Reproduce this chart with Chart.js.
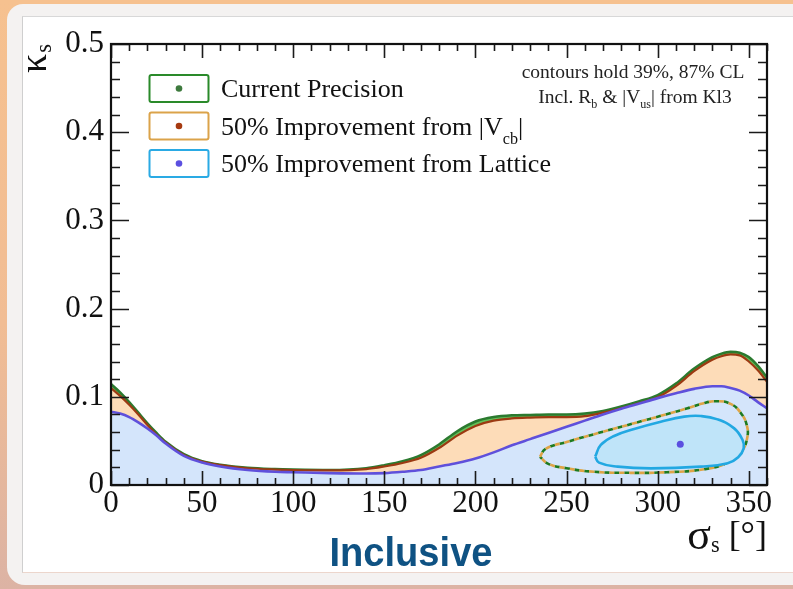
<!DOCTYPE html>
<html>
<head>
<meta charset="utf-8">
<script src="https://cdn.jsdelivr.net/npm/chart.js@4/dist/chart.umd.min.js"></script>
<style>
  html, body { margin: 0; padding: 0; }
  body {
    width: 793px; height: 589px; overflow: hidden; position: relative;
    background: linear-gradient(180deg, #f6c18f 0%, #f1bd94 55%, #dcb3a4 100%);
  }
  #sheet {
    position: absolute; left: 7px; top: 4px; right: 0; bottom: 4px;
    background: #f4f2f1; border-radius: 16px 0 0 18px;
  }
  #page {
    position: absolute; left: 22px; top: 16px; right: 0; bottom: 16px;
    background: #ffffff;
    border-left: 1px solid #cfcfcf; border-top: 1px solid #d8d8d8; border-bottom: 1px solid #ecd6cc;
  }
  #plot { position: absolute; left: 0; top: 0; }
</style>
</head>
<body>
<div id="sheet"></div>
<div id="page"></div>
<canvas id="plot" width="793" height="589"></canvas>
<script>
// sigma_s grid (degrees) for the upper edge of the 87% CL regions
const sigmaDeg = [0, 5, 10, 15, 20, 25, 30, 40, 50, 60, 75, 90, 100, 120, 140, 150, 160, 170, 180, 190,
                  200, 210, 220, 230, 240, 250, 260, 270, 280, 290, 300, 310, 320, 330, 335, 340, 345, 350, 355, 360];

// upper kappa_s edge of each 87% CL region
const kappaCurrent = [0.1145, 0.105, 0.094, 0.082, 0.070, 0.059, 0.049, 0.035, 0.027, 0.023, 0.0195, 0.018, 0.0175, 0.017, 0.019, 0.0225, 0.027, 0.034, 0.046, 0.061,
                      0.072, 0.077, 0.079, 0.0795, 0.080, 0.080, 0.081, 0.084, 0.089, 0.095, 0.102, 0.115, 0.132, 0.145, 0.149, 0.151, 0.150, 0.145, 0.135, 0.122];
const kappaVcb     = [0.110, 0.101, 0.091, 0.080, 0.068, 0.057, 0.048, 0.034, 0.0265, 0.0225, 0.019, 0.0175, 0.017, 0.0165, 0.018, 0.021, 0.025, 0.031, 0.042, 0.056,
                      0.067, 0.073, 0.0755, 0.0765, 0.077, 0.077, 0.078, 0.082, 0.087, 0.093, 0.0995, 0.112, 0.129, 0.142, 0.146, 0.148, 0.147, 0.140, 0.130, 0.117];
const kappaLattice = [0.083, 0.081, 0.077, 0.071, 0.064, 0.056, 0.047, 0.033, 0.0255, 0.021, 0.017, 0.015, 0.0145, 0.0135, 0.013, 0.0135, 0.015, 0.017, 0.021, 0.025,
                      0.030, 0.037, 0.045, 0.052, 0.059, 0.066, 0.073, 0.080, 0.0865, 0.0925, 0.0985, 0.104, 0.109, 0.112, 0.112, 0.110, 0.107, 0.1015, 0.094, 0.087];

// 39% CL closed contours, [sigma_s, kappa_s]
const contourVcb39 = [[235.4, 0.032], [238.5, 0.041], [250.5, 0.049], [268.8, 0.0597], [287, 0.070], [305.4, 0.0805], [316.4, 0.087],
                      [324, 0.092], [332, 0.095], [340, 0.092], [345.5, 0.082], [349, 0.067], [349, 0.052], [346, 0.038], [339, 0.026],
                      [326, 0.018], [305, 0.0145], [285, 0.0138], [265, 0.015], [250, 0.019], [240, 0.024], [235.4, 0.032]];
const contourLattice39 = [[265.7, 0.0321], [268.8, 0.0454], [276.1, 0.0556], [287.1, 0.0635], [301.7, 0.0718], [314.6, 0.0775],
                          [323.7, 0.0782], [332.9, 0.0744], [342, 0.0642], [346.6, 0.051], [347.2, 0.0416], [344.2, 0.0314],
                          [338.4, 0.0246], [323.7, 0.0208], [296.3, 0.0189], [278, 0.0208], [267.8, 0.0253], [265.7, 0.0321]];

// best-fit point
const bestFit = [[312.4, 0.0463]];

// ticks and text
const xMajorTicks = [0, 50, 100, 150, 200, 250, 300, 350];
const yMajorTicks = [0, 0.1, 0.2, 0.3, 0.4, 0.5];
const legendLabels = ['Current Precision', '50% Improvement from |V_{cb}|', '50% Improvement from Lattice'];
const noteLines = ['contours hold 39%, 87% CL', 'Incl. R_{b} & |V_{us}| from Kl3'];
const xTitleSymbol = '\u03C3';
const xTitleRest = '_{s} [\u00B0]';
const yTitle = '\u03BA_{s}';
const panelTitle = 'Inclusive';

const SERIF = "'Liberation Serif', 'Times New Roman', serif";
const pairs = (xs, ys) => xs.map((x, i) => ({ x: x, y: ys[i] }));
const pts = arr => arr.map(p => ({ x: p[0], y: p[1] }));

// lay out a string with _{...} subscripts; returns its parts and total width
function layoutRich(ctx, text, size, subScale) {
  const parts = [];
  const re = /_\{([^}]*)\}/g;
  let last = 0, m;
  while ((m = re.exec(text))) {
    if (m.index > last) parts.push({ t: text.slice(last, m.index), sub: false });
    parts.push({ t: m[1], sub: true });
    last = re.lastIndex;
  }
  if (last < text.length) parts.push({ t: text.slice(last), sub: false });
  let w = 0;
  for (const p of parts) {
    p.size = p.sub ? size * subScale : size;
    ctx.font = p.size + 'px ' + SERIF;
    p.w = ctx.measureText(p.t).width;
    w += p.w;
  }
  return { parts, w };
}

function richText(ctx, text, x, y, size, align, subScale, subDrop) {
  const { parts, w } = layoutRich(ctx, text, size, subScale);
  let cx = align === 'center' ? x - w / 2 : (align === 'right' ? x - w : x);
  ctx.textAlign = 'left';
  ctx.textBaseline = 'alphabetic';
  for (const p of parts) {
    ctx.font = p.size + 'px ' + SERIF;
    ctx.fillText(p.t, cx, p.sub ? y + size * subDrop : y);
    cx += p.w;
  }
  return w;
}

const near = (v, list) => list.some(t => Math.abs(t - v) < 1e-6);

// inward ticks on all four sides plus the frame
const frameTicks = {
  id: 'frameTicks',
  afterDatasetsDraw(chart) {
    const { ctx, chartArea: a, scales: { x, y } } = chart;
    ctx.save();
    ctx.strokeStyle = '#1a1a1a';
    ctx.lineWidth = 1.6;
    ctx.beginPath();
    x.ticks.forEach(t => {
      const px = Math.round(x.getPixelForValue(t.value)) + 0.5;
      const L = near(t.value, xMajorTicks) ? 14 : 7;
      ctx.moveTo(px, a.bottom); ctx.lineTo(px, a.bottom - L);
      ctx.moveTo(px, a.top); ctx.lineTo(px, a.top + L);
    });
    y.ticks.forEach(t => {
      const py = Math.round(y.getPixelForValue(t.value)) + 0.5;
      const L = near(t.value, yMajorTicks) ? 18 : 9;
      ctx.moveTo(a.left, py); ctx.lineTo(a.left + L, py);
      ctx.moveTo(a.right, py); ctx.lineTo(a.right - L, py);
    });
    ctx.stroke();
    ctx.lineWidth = 2.2;
    ctx.strokeStyle = '#111';
    ctx.strokeRect(a.left, a.top, a.right - a.left, a.bottom - a.top);
    ctx.restore();
  }
};

// legend, notes and axis titles
const annotations = {
  id: 'annotations',
  afterDraw(chart) {
    const { ctx, chartArea: a } = chart;
    ctx.save();
    ctx.fillStyle = '#111';

    const boxes = [
      { stroke: '#2a8a2a', dot: '#3d7a3d' },
      { stroke: '#dba34a', dot: '#a63a10' },
      { stroke: '#2aaae4', dot: '#5b4fe0' }
    ];
    legendLabels.forEach((label, i) => {
      const top = 75 + i * 37.5;
      ctx.lineWidth = 2;
      ctx.strokeStyle = boxes[i].stroke;
      ctx.fillStyle = '#fff';
      ctx.beginPath();
      ctx.roundRect(149.5, top, 59, 27, 2);
      ctx.fill();
      ctx.stroke();
      ctx.fillStyle = boxes[i].dot;
      ctx.beginPath();
      ctx.arc(179, top + 13.5, 3.3, 0, Math.PI * 2);
      ctx.fill();
      ctx.fillStyle = '#111';
      richText(ctx, label, 221, top + 22, 26, 'left', 0.62, 0.36);
    });

    ctx.fillStyle = '#222';
    richText(ctx, noteLines[0], 633, 78, 19.5, 'center', 0.62, 0.25);
    richText(ctx, noteLines[1], 635, 103, 19.5, 'center', 0.62, 0.25);

    // x title: large sigma followed by subscript and unit
    ctx.fillStyle = '#111';
    const rest = layoutRich(ctx, xTitleRest, 36, 0.62);
    ctx.font = '44px ' + SERIF;
    const symW = ctx.measureText(xTitleSymbol).width;
    const startX = a.right - rest.w - symW;
    ctx.textAlign = 'left';
    ctx.textBaseline = 'alphabetic';
    ctx.fillText(xTitleSymbol, startX, 549);
    richText(ctx, xTitleRest, startX + symW, 546, 36, 'left', 0.62, 0.18);

    ctx.save();
    ctx.translate(46, 73);
    ctx.rotate(-Math.PI / 2);
    ctx.font = '38px ' + SERIF;
    ctx.fillText('\u03BA', 0, 0);
    const kw = ctx.measureText('\u03BA').width;
    ctx.font = (38 * 0.6) + 'px ' + SERIF;
    ctx.fillText(yTitle.replace(/^.*_\{(.*)\}$/, '$1'), kw + 1, 5);
    ctx.restore();

    ctx.font = "bold 40px 'Liberation Sans Narrow', 'Liberation Sans', Arial, sans-serif";
    const w = ctx.measureText(panelTitle).width;
    const sx = 163 / w;
    ctx.save();
    ctx.translate(411, 566);
    ctx.scale(sx, 1);
    ctx.fillStyle = '#0f5283';
    ctx.textAlign = 'center';
    ctx.textBaseline = 'alphabetic';
    ctx.fillText(panelTitle, 0, 0);
    ctx.restore();

    ctx.restore();
  }
};

const lineBase = { pointRadius: 0, pointHoverRadius: 0, showLine: true };

new Chart(document.getElementById('plot'), {
  type: 'scatter',
  data: {
    datasets: [
      Object.assign({}, lineBase, {
        label: legendLabels[0], data: pairs(sigmaDeg, kappaCurrent),
        borderColor: '#2b7a2f', borderWidth: 2.5, backgroundColor: '#62bf58',
        fill: 'origin', cubicInterpolationMode: 'monotone', order: 6
      }),
      Object.assign({}, lineBase, {
        label: legendLabels[1], data: pairs(sigmaDeg, kappaVcb),
        borderColor: '#9c3a12', borderWidth: 2.2, backgroundColor: '#fddcb8',
        fill: 'origin', cubicInterpolationMode: 'monotone', order: 5
      }),
      Object.assign({}, lineBase, {
        label: legendLabels[2], data: pairs(sigmaDeg, kappaLattice),
        borderColor: '#5f50db', borderWidth: 2.6, backgroundColor: '#d4e5fb',
        fill: 'origin', cubicInterpolationMode: 'monotone', order: 4
      }),
      Object.assign({}, lineBase, {
        label: 'Vcb 39% (a)', data: pts(contourVcb39),
        borderColor: '#dfa446', borderWidth: 2.6, borderDash: [5, 5],
        fill: false, tension: 0.45, order: 3
      }),
      Object.assign({}, lineBase, {
        label: 'Vcb 39% (b)', data: pts(contourVcb39),
        borderColor: '#1f7a1f', borderWidth: 2.6, borderDash: [5, 5], borderDashOffset: 5,
        fill: false, tension: 0.45, order: 3
      }),
      Object.assign({}, lineBase, {
        label: 'Lattice 39%', data: pts(contourLattice39),
        borderColor: '#22a8e2', borderWidth: 2.6, backgroundColor: '#bfe4f9',
        fill: 'shape', tension: 0.45, order: 2
      }),
      {
        label: 'best fit', data: pts(bestFit), showLine: false,
        pointRadius: 3.5, pointBackgroundColor: '#5b4fe0', pointBorderWidth: 0, order: 1
      }
    ]
  },
  options: {
    responsive: false,
    animation: false,
    devicePixelRatio: 1,
    layout: { padding: { left: 0, right: 26, top: 44, bottom: 0 } },
    plugins: { legend: { display: false }, tooltip: { enabled: false } },
    scales: {
      x: {
        type: 'linear', min: 0, max: 360,
        grid: { display: false, drawTicks: false }, border: { display: false },
        afterFit: s => { s.height = 104; },
        ticks: {
          stepSize: 10, autoSkip: false, maxRotation: 0, padding: 0,
          color: '#111', font: { family: SERIF, size: 31 },
          callback: v => near(v, xMajorTicks) ? String(v) : ''
        }
      },
      y: {
        type: 'linear', min: 0, max: 0.5,
        grid: { display: false, drawTicks: false }, border: { display: false },
        afterFit: s => { s.width = 111; },
        ticks: {
          stepSize: 0.02, autoSkip: false, padding: 7,
          color: '#111', font: { family: SERIF, size: 31 },
          callback: v => near(v, yMajorTicks) ? String(Math.round(v * 10) / 10) : ''
        }
      }
    }
  },
  plugins: [frameTicks, annotations]
});
</script>
</body>
</html>
